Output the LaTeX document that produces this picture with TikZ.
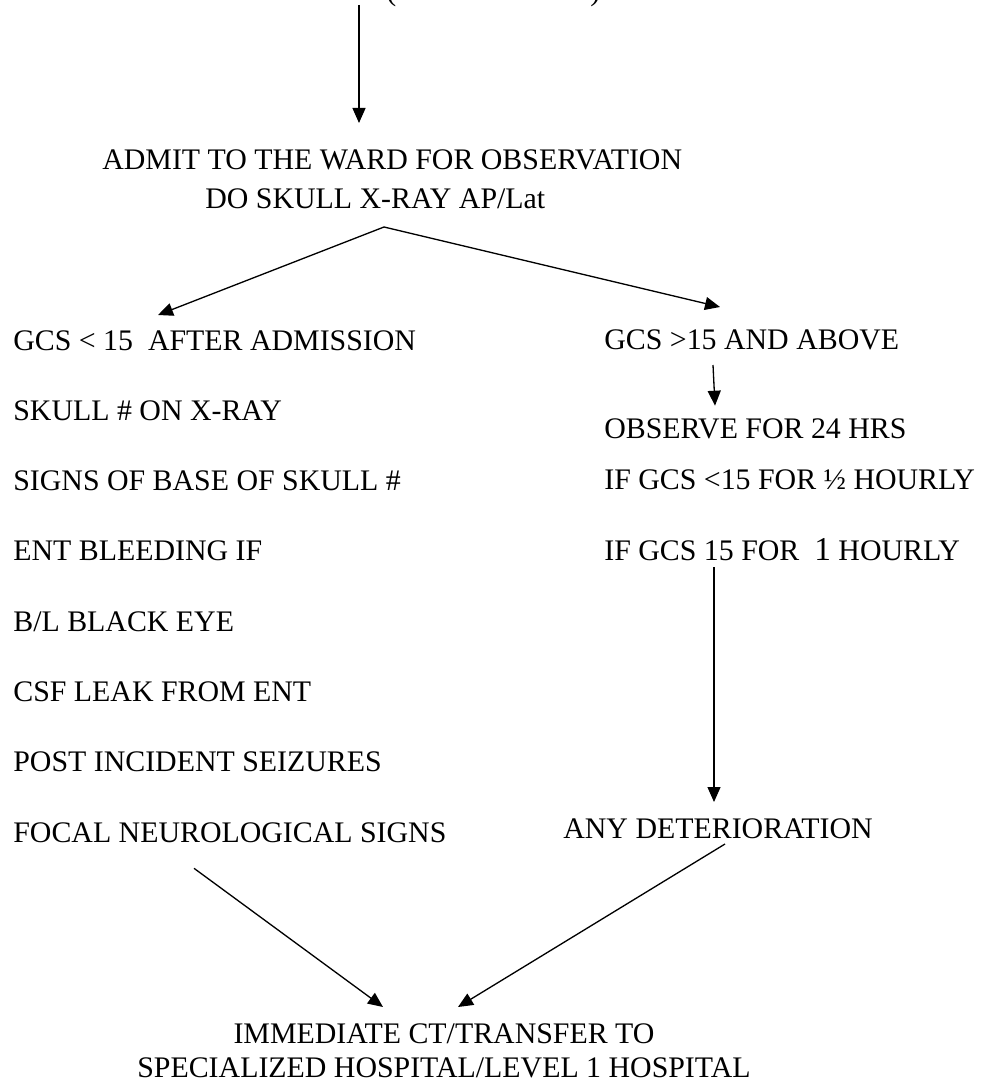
\documentclass[tikz,border=0pt]{standalone}
\usepackage{fontspec}
\setmainfont{Liberation Serif}
\usetikzlibrary{positioning,arrows.meta}
\tikzset{
  txt/.style={inner sep=0pt, text height=12pt, text depth=3.5pt,
              font=\fontsize{17}{19.35}\selectfont},
  item/.style={txt, anchor=north west},
  arrow/.style={-{Triangle[length=3mm,width=2.6mm]}, line width=0.75pt},
}

\begin{document}
\begin{tikzpicture}[x=0.02cm, y=-0.02cm, node distance=0.848cm]
  \useasboundingbox (0,0) rectangle (982,1084);
  \clip (0,0) rectangle (982,1084);

  % top, cut off by the page edge
  \node[txt, anchor=base west] (head) at (386,1) {(\hspace{3.88cm})};
  \coordinate (headout) at (359,5);
  \node[txt, anchor=base west] (admit) at (102,170) {ADMIT TO THE WARD FOR OBSERVATION};
  \node[txt, anchor=base west] (xray)  at (205,209) {DO SKULL X-RAY AP/Lat};
  \coordinate (split) at ([shift={(179,18)}]xray.base west);

  % left column
  \node[txt, anchor=base west] (gcslow) at (13,350) {GCS < 15~~AFTER ADMISSION};
  \node[below=of gcslow.south west, item]   (fracture) {SKULL \# ON X-RAY};
  \node[below=of fracture.south west, item] (basefrac) {SIGNS OF BASE OF SKULL \#};
  \node[below=of basefrac.south west, item] (entbleed) {ENT BLEEDING IF};
  \node[below=of entbleed.south west, item] (blackeye) {B/L BLACK EYE};
  \node[below=of blackeye.south west, item] (csfleak)  {CSF LEAK FROM ENT};
  \node[below=of csfleak.south west, item]  (seizure)  {POST INCIDENT SEIZURES};
  \node[below=of seizure.south west, item]  (focal)    {FOCAL NEUROLOGICAL SIGNS};

  % right column
  \node[txt, anchor=base west] (gcshigh) at (604,349) {GCS >15 AND ABOVE};
  \node[below=1.236cm of gcshigh.south west, item] (observe)  {OBSERVE FOR 24 HRS};
  \node[below=0.456cm of observe.south west, item] (halfhour) {IF GCS <15 FOR ½ HOURLY};
  \node[below=0.856cm of halfhour.south west, item] (hourly)  {IF GCS 15 FOR~~{\fontsize{19}{19}\selectfont 1} HOURLY};
  \node[txt, anchor=base west] (worse) at (563,838) {ANY DETERIORATION};

  % base of a two-line node is the baseline of its last line
  \node[anchor=base, align=center, inner sep=0pt, font=\fontsize{17}{19.35}\selectfont]
    (final) at (444,1077) {IMMEDIATE CT/TRANSFER TO\\SPECIALIZED HOSPITAL/LEVEL 1 HOSPITAL};

  \draw[arrow] (headout) -- ([shift={(257,-47)}]admit.base west);
  \draw[arrow] (split) -- ([shift={(145,-35)}]gcslow.base west);
  \draw[arrow] (split) -- ([shift={(116,-42)}]gcshigh.base west);
  \draw[arrow] ([shift={(109,16)}]gcshigh.base west) -- ([shift={(111,-33)}]observe.base west);
  \draw[arrow] ([shift={(110,7)}]hourly.base west) -- ([shift={(151,-36)}]worse.base west);
  \draw[arrow] ([shift={(181,26)}]focal.base west) -- ([shift={(-61,-70)}]final.base);
  \draw[arrow] ([shift={(162,6)}]worse.base west) -- ([shift={(14,-70)}]final.base);
\end{tikzpicture}
\end{document}
